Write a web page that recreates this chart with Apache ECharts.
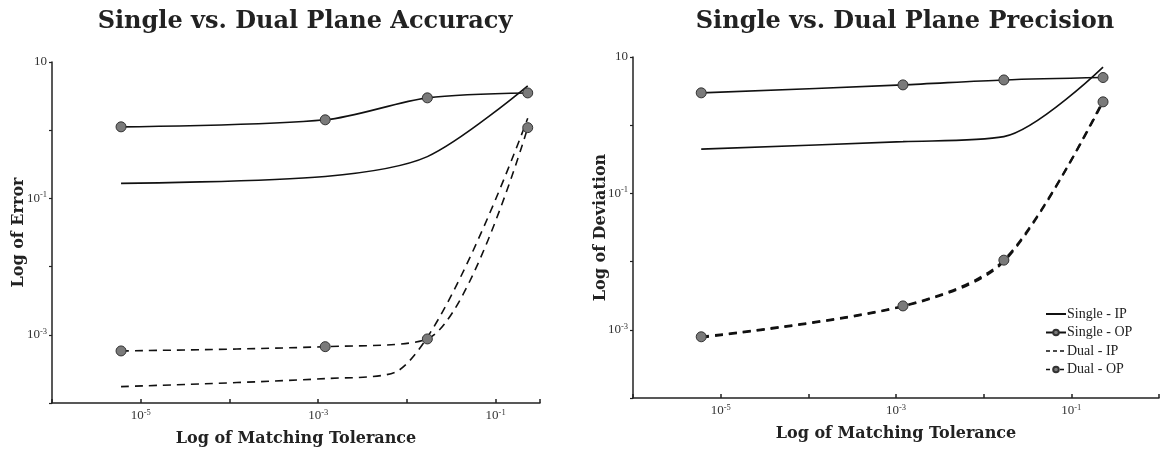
<!DOCTYPE html>
<html>
<head>
<meta charset="utf-8">
<title>Single vs. Dual Plane</title>
<script src="https://cdn.jsdelivr.net/npm/echarts@6/dist/echarts.min.js"></script>
<style>
  html, body { margin: 0; padding: 0; background: #fff; }
  #chart { width: 1162px; height: 452px; }
</style>
</head>
<body>
<div id="chart"></div>
<script>
// matching tolerance (x) for the marked points
const tolerance = [6e-6, 1.2e-3, 1.7e-2, 0.23];
const toleranceDualIP = [6e-6, 1.2e-3, 8e-3, 0.23];

// accuracy chart (log of error)
const errSingleIP = [0.166, 0.21, 0.41, 4.47];
const errSingleOP = [1.12, 1.42, 2.98, 3.52];
const errDualIP = [1.74e-4, 2.28e-4, 2.98e-4, 1.5];
const errDualOP = [5.8e-4, 6.7e-4, 8.7e-4, 1.09];

// precision chart (log of deviation)
const devSingleIP = [0.446, 0.574, 0.68, 7.1];
const devSingleOP = [2.98, 3.9, 4.61, 5.0];
const devDualIP = [7.7e-4, 2.2e-3, 1.0e-2, 2.3];
const devDualOP = [7.9e-4, 2.24e-3, 1.05e-2, 2.2];

const xLabelExps = [-5, -3, -1];
const yLabelExps = [1, -1, -3];

const SERIF = '"Liberation Serif", serif';
const HEAD = '"DejaVu Serif", "Liberation Serif", serif';

function pairs(xs, ys) {
  return xs.map((x, i) => [x, ys[i]]);
}

function powLabel(v, shown) {
  const e = Math.round(Math.log10(v));
  if (Math.abs(Math.log10(v) - e) > 0.01) return '';
  if (shown.indexOf(e) < 0) return '';
  if (e === 1) return '{b|10}';
  return '{b|10}{s|' + e + '}';
}

const richPow = {
  b: { fontSize: 13, fontFamily: SERIF, color: '#333', lineHeight: 16 },
  s: { fontSize: 8.5, fontFamily: SERIF, color: '#333', verticalAlign: 'top', lineHeight: 10 }
};

const nameStyle = { fontFamily: HEAD, fontWeight: 'bold', fontSize: 16, color: '#222' };

function xAxisOf(grid, max) {
  return {
    type: 'log', gridIndex: grid, min: 1e-6, max: max,
    name: 'Log of Matching Tolerance', nameLocation: 'middle', nameGap: 28,
    nameTextStyle: nameStyle,
    axisLine: { lineStyle: { color: '#222', width: 1.5 } },
    axisTick: { inside: true, length: 4, lineStyle: { color: '#222', width: 1.5 } },
    axisLabel: { margin: 5, formatter: v => powLabel(v, xLabelExps), rich: richPow },
    splitLine: { show: false }
  };
}

function yAxisOf(grid, name, gap) {
  return {
    type: 'log', gridIndex: grid, min: 1e-4, max: 10,
    name: name, nameLocation: 'middle', nameGap: gap, nameRotate: 90,
    nameMoveOverlap: false,
    nameTextStyle: nameStyle,
    axisLine: { show: true, lineStyle: { color: '#222', width: 1.5 } },
    axisTick: { show: true, length: 3, lineStyle: { color: '#222', width: 1.2 } },
    axisLabel: { margin: 5, formatter: v => powLabel(v, yLabelExps), rich: richPow },
    splitLine: { show: false }
  };
}

const markStyle = { color: '#7a7a7a', borderColor: '#333', borderWidth: 1 };

function lineSeries(name, grid, data, dashed, marked, width) {
  return {
    name: name, type: 'line', xAxisIndex: grid, yAxisIndex: grid,
    data: data, smooth: 0.3,
    symbol: marked ? 'circle' : 'none', symbolSize: 10,
    itemStyle: markStyle,
    lineStyle: { color: '#111', width: width, type: dashed ? [8, 6] : 'solid' },
    emphasis: { disabled: true },
    z: marked ? 3 : 2
  };
}

const chart = echarts.init(document.getElementById('chart'), null, { renderer: 'canvas' });

const titleStyle = { fontFamily: HEAD, fontWeight: 'bold', fontSize: 24, color: '#222' };

chart.setOption({
  animation: false,
  backgroundColor: '#fff',
  title: [
    { text: 'Single vs. Dual Plane Accuracy', left: 300, top: 5, textAlign: 'center', textStyle: titleStyle },
    { text: 'Single vs. Dual Plane Precision', left: 900, top: 5, textAlign: 'center', textStyle: titleStyle }
  ],
  legend: {
    data: [
      { name: 'Single - IP', itemStyle: { opacity: 0 } },
      { name: 'Single - OP' },
      { name: 'Dual - IP', itemStyle: { opacity: 0 }, lineStyle: { type: [4, 3], width: 1.6 } },
      { name: 'Dual - OP', lineStyle: { type: [4, 3], width: 1.6 } }
    ],
    orient: 'vertical', left: 1040, top: 302,
    itemWidth: 20, itemHeight: 7, itemGap: 4.5, selectedMode: false,
    textStyle: { fontFamily: SERIF, fontSize: 14, lineHeight: 14, color: '#222', padding: [0, 0, 0, -4] }
  },
  grid: [
    { left: 52, top: 62, width: 488, height: 341 },
    { left: 633, top: 57, width: 528, height: 341 }
  ],
  xAxis: [xAxisOf(0, Math.pow(10, -0.5)), xAxisOf(1, 1)],
  yAxis: [yAxisOf(0, 'Log of Error', 25), yAxisOf(1, 'Log of Deviation', 24)],
  series: [
    lineSeries('Single - IP', 0, pairs(tolerance, errSingleIP), false, false, 1.6),
    lineSeries('Single - OP', 0, pairs(tolerance, errSingleOP), false, true, 1.6),
    lineSeries('Dual - IP', 0, pairs(toleranceDualIP, errDualIP), true, false, 1.6),
    lineSeries('Dual - OP', 0, pairs(tolerance, errDualOP), true, true, 1.6),
    lineSeries('Single - IP', 1, pairs(tolerance, devSingleIP), false, false, 1.6),
    lineSeries('Single - OP', 1, pairs(tolerance, devSingleOP), false, true, 1.6),
    lineSeries('Dual - IP', 1, pairs(tolerance, devDualIP), true, false, 2.2),
    lineSeries('Dual - OP', 1, pairs(tolerance, devDualOP), true, true, 2.2)
  ]
});
</script>
</body>
</html>
